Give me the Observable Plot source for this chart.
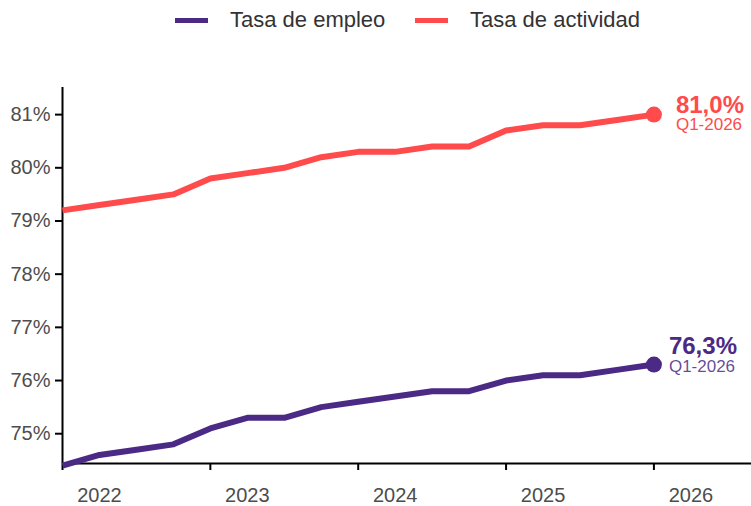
<!DOCTYPE html>
<html>
<head>
<meta charset="utf-8">
<script src="https://cdn.jsdelivr.net/npm/d3@7"></script>
<script src="https://cdn.jsdelivr.net/npm/@observablehq/plot@0.6"></script>
<style>
  html, body { margin: 0; padding: 0; background: #fff; }
  body { font-family: "Liberation Sans", Arial, sans-serif; width: 751px; height: 506px; overflow: hidden; }
  #legend { position: relative; height: 45px; }
  .item { position: absolute; top: 7px; display: flex; align-items: center; font-size: 22px; color: #333; white-space: nowrap; }
  .sw { width: 33px; height: 5px; margin-right: 22px; }
  #chart svg { display: block; }
</style>
</head>
<body>
<div id="legend"></div>
<div id="chart"></div>
<script>
// ---- data ----
const periods = ["Q1-2022","Q2-2022","Q3-2022","Q4-2022","Q1-2023","Q2-2023","Q3-2023","Q4-2023",
                 "Q1-2024","Q2-2024","Q3-2024","Q4-2024","Q1-2025","Q2-2025","Q3-2025","Q4-2025","Q1-2026"];
const seriesNames = ["Tasa de empleo", "Tasa de actividad"];
const empleo    = [74.4,74.6,74.7,74.8,75.1,75.3,75.3,75.5,75.6,75.7,75.8,75.8,76.0,76.1,76.1,76.2,76.3];
const actividad = [79.2,79.3,79.4,79.5,79.8,79.9,80.0,80.2,80.3,80.3,80.4,80.4,80.7,80.8,80.8,80.9,81.0];
const seriesColors = ["#4B2A86", "#FF4B4B"];
const xTickYears = [2022, 2023, 2024, 2025, 2026];
const yTickValues = [75, 76, 77, 78, 79, 80, 81];

// ---- build table ----
const parseQ = p => { const [q, y] = p.split("-"); return +y + (+q.slice(1) - 1) / 4; };
const values = [empleo, actividad];
const rows = seriesNames.flatMap((s, k) => periods.map((p, i) => ({series: s, period: p, t: parseQ(p), v: values[k][i]})));
const last = seriesNames.map((s, k) => ({series: s, period: periods[periods.length - 1], t: parseQ(periods[periods.length - 1]), v: values[k][values[k].length - 1]}));
const fmt = v => v.toFixed(1).replace(".", ",") + "%";

// ---- legend ----
const legend = document.getElementById("legend");
const legendLeft = [175, 415];
seriesNames.forEach((s, k) => {
  const it = document.createElement("div");
  it.className = "item";
  it.style.left = legendLeft[k] + "px";
  it.innerHTML = `<span class="sw" style="background:${seriesColors[k]}"></span><span>${s}</span>`;
  legend.appendChild(it);
});

const yMin = 74.44, yMax = 81.51;
const chart = Plot.plot({
  width: 751,
  height: 461,
  marginLeft: 62,
  marginRight: 0,
  marginTop: 42,
  marginBottom: 43,
  style: {fontFamily: '"Liberation Sans", Arial, sans-serif', background: "#fff", overflow: "visible"},
  x: {domain: [2022, 2026.66], label: null},
  y: {domain: [yMin, yMax], label: null},
  color: {domain: seriesNames, range: seriesColors},
  marks: [
    Plot.ruleX([2022], {stroke: "black", strokeWidth: 2}),
    Plot.ruleY([yMin], {stroke: "black", strokeWidth: 2}),
    Plot.axisY(yTickValues, {label: null, tickSize: 7, tickPadding: 5, tickFormat: d => d + "%", fontSize: 20, stroke: "black", strokeWidth: 2, fill: "#4d4d4d"}),
    Plot.axisX(xTickYears, {label: null, tickSize: 7, tickFormat: () => "", stroke: "black", strokeWidth: 2}),
    Plot.axisX(xTickYears, {label: null, tickSize: 0, tickPadding: 24, dx: 37, tickFormat: d => String(d), fontSize: 20, fill: "#4d4d4d"}),
    Plot.line(rows, {x: "t", y: "v", z: "series", stroke: "series", strokeWidth: 6, strokeLinejoin: "round", strokeLinecap: "butt"}),
    Plot.dot(last, {x: "t", y: "v", fill: "series", r: 8}),
    Plot.text(last.filter(d => d.series === seriesNames[1]), {x: "t", y: "v", text: d => fmt(d.v), fill: "series", fontSize: 24, fontWeight: "bold", textAnchor: "start", dx: 22, dy: -9}),
    Plot.text(last.filter(d => d.series === seriesNames[1]), {x: "t", y: "v", text: "period", fill: "series", fontSize: 17, textAnchor: "start", dx: 22, dy: 10}),
    Plot.text(last.filter(d => d.series === seriesNames[0]), {x: "t", y: "v", text: d => fmt(d.v), fill: "series", fontSize: 24, fontWeight: "bold", textAnchor: "start", dx: 15, dy: -18}),
    Plot.text(last.filter(d => d.series === seriesNames[0]), {x: "t", y: "v", text: "period", fill: "series", fillOpacity: 0.85, fontSize: 17, textAnchor: "start", dx: 15, dy: 2})
  ]
});
document.getElementById("chart").appendChild(chart);
</script>
</body>
</html>
